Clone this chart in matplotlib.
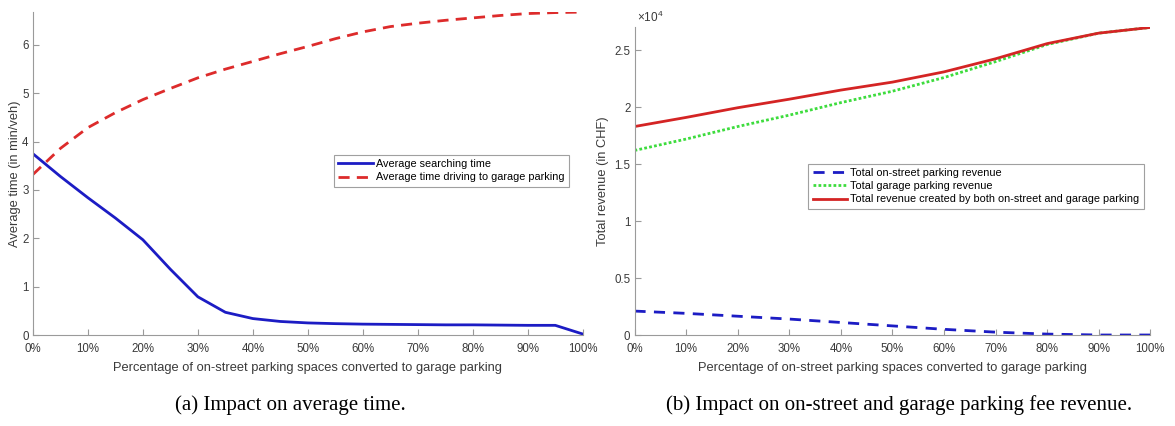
import numpy as np
import matplotlib.pyplot as plt
from matplotlib.ticker import FuncFormatter

plt.rcParams['font.family'] = ['Liberation Sans', 'DejaVu Sans']
plt.rcParams['mathtext.fontset'] = 'custom'
plt.rcParams['mathtext.rm'] = 'Liberation Sans'

# share of on-street spaces converted to garage parking (%)
pct_a = [0, 5, 10, 15, 20, 25, 30, 35, 40, 45, 50, 55, 60, 65, 70, 75, 80, 85, 90, 95, 100]
search_time = [3.75, 3.28, 2.84, 2.42, 1.97, 1.36, 0.79, 0.47, 0.34, 0.28, 0.25, 0.235, 0.225,
               0.22, 0.215, 0.21, 0.21, 0.205, 0.2, 0.2, 0.02]
garage_time = [3.32, 3.86, 4.29, 4.60, 4.87, 5.10, 5.32, 5.50, 5.66, 5.82, 5.97, 6.13, 6.27,
               6.38, 6.45, 6.51, 6.56, 6.61, 6.65, 6.67, 6.68]

pct_b = [0, 10, 20, 30, 40, 50, 60, 70, 80, 90, 100]
onstreet_rev = [2100, 1900, 1650, 1400, 1100, 800, 500, 250, 80, 0, 0]
garage_rev = [16200, 17200, 18300, 19300, 20400, 21400, 22600, 24000, 25500, 26500, 27000]
total_rev = np.array(onstreet_rev) + np.array(garage_rev)

tick_pct = np.arange(0, 101, 10)
axis_col = '#9a9a9a'
text_col = '#3a3a3a'

fig = plt.figure(figsize=(11.75, 4.26), dpi=100)
ax1 = fig.add_axes([0.028, 0.2136, 0.468, 0.758])
ax2 = fig.add_axes([0.540, 0.2136, 0.439, 0.722])

def matlab_style(ax):
    for s in ['top', 'right']:
        ax.spines[s].set_visible(False)
    for s in ['left', 'bottom']:
        ax.spines[s].set_color(axis_col)
        ax.spines[s].set_linewidth(0.8)
    ax.tick_params(direction='in', length=4, width=0.8, color=axis_col,
                   labelcolor=text_col, labelsize=8.3)
    ax.tick_params(axis='x', pad=5.5)
    ax.tick_params(axis='y', pad=3)
    ax.set_xlim(0, 100)
    ax.set_xticks(tick_pct)
    ax.xaxis.set_major_formatter(FuncFormatter(lambda v, p: '%d%%' % v))
    ax.set_xlabel('Percentage of on-street parking spaces converted to garage parking',
                  fontsize=9.3, color=text_col, labelpad=5)

# (a) average time
ax1.plot(pct_a, search_time, color='#1c1cc4', lw=2, label='Average searching time')
ax1.plot(pct_a, garage_time, color='#dd2b2b', lw=2, dashes=(4, 2.6),
         label='Average time driving to garage parking')
matlab_style(ax1)
ax1.set_ylim(0, max(garage_time))
ax1.set_yticks(range(0, 7))
ax1.set_ylabel('Average time (in min/veh)', fontsize=9.3, color=text_col, labelpad=1)
leg = ax1.legend(loc='upper right', bbox_to_anchor=(0.985, 0.575), fontsize=7.8,
                 fancybox=False, framealpha=1, edgecolor='#a0a0a0', handlelength=3.2,
                 borderpad=0.4, labelspacing=0.3, handletextpad=0.3)
leg.get_frame().set_linewidth(0.8)

# (b) revenue
ax2.plot(pct_b, np.array(onstreet_rev) / 1e4, color='#1c1cc4', lw=2, dashes=(4, 3),
         label='Total on-street parking revenue')
ax2.plot(pct_b, np.array(garage_rev) / 1e4, color='#3ddc3d', lw=2, dashes=(1, 0.8),
         label='Total garage parking revenue')
ax2.plot(pct_b, total_rev / 1e4, color='#d42424', lw=2,
         label='Total revenue created by both on-street and garage parking')
matlab_style(ax2)
ax2.set_ylim(0, total_rev.max() / 1e4)
ax2.set_yticks([0, 0.5, 1, 1.5, 2, 2.5])
ax2.yaxis.set_major_formatter(FuncFormatter(lambda v, p: '%g' % v))
ax2.set_ylabel('Total revenue (in CHF)', fontsize=9.3, color=text_col, labelpad=4)
ax2.text(0.004, 1.008, r'$\times10^{4}$', transform=ax2.transAxes, fontsize=8.5,
         color=text_col, ha='left', va='bottom')
leg = ax2.legend(loc='upper right', bbox_to_anchor=(0.998, 0.575), fontsize=7.8,
                 fancybox=False, framealpha=1, edgecolor='#a0a0a0', handlelength=3.2,
                 borderpad=0.4, labelspacing=0.3, handletextpad=0.3)
leg.get_frame().set_linewidth(0.8)

# captions
serif = ['Liberation Serif', 'DejaVu Serif']
fig.text(0.247, 0.05, '(a) Impact on average time.', ha='center', va='center',
         fontsize=15, family=serif)
fig.text(0.765, 0.05, '(b) Impact on on-street and garage parking fee revenue.',
         ha='center', va='center', fontsize=15, family=serif)

fig.savefig('out.png', dpi=100)
